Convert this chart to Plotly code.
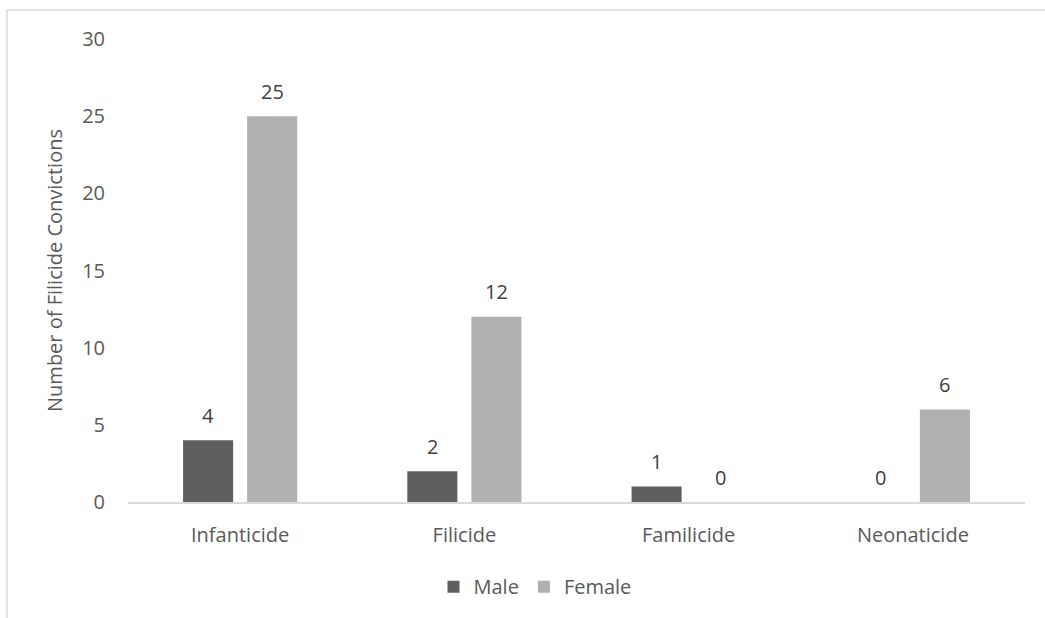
import plotly.graph_objects as go

categories = ["Infanticide", "Filicide", "Familicide", "Neonaticide"]
male = [4, 2, 1, 0]
female = [25, 12, 0, 6]
y_ticks = [0, 5, 10, 15, 20, 25, 30]

W, H = 1045, 618
L, R, T, B = 128, 20, 39, 114
pw, ph = W - L - R, H - T - B

def px_x(p):
    return (p - L) / pw

def px_y(p):
    return (H - B - p) / ph

TEXT = "#595959"
FONT = "Open Sans"
FS = 20

fig = go.Figure()
fig.add_trace(go.Bar(name="Male", x=categories, y=male,
                     marker=dict(color="#5f5f5f", line=dict(width=0))))
fig.add_trace(go.Bar(name="Female", x=categories, y=female,
                     marker=dict(color="#b0b0b0", line=dict(width=0))))

annotations = []
for i, c in enumerate(categories):
    for val, shift in ((male[i], -32), (female[i], 32)):
        annotations.append(dict(
            x=c, y=val, xref="x", yref="y", text=str(val), showarrow=False,
            xshift=shift, yshift=25, yanchor="middle",
            font=dict(family=FONT, size=FS, color="#404040"),
        ))

fig.update_layout(
    width=W, height=H,
    margin=dict(l=L, r=R, t=T, b=B, pad=0),
    paper_bgcolor="white", plot_bgcolor="white",
    barmode="group", bargap=0.4286, bargroupgap=0.219,
    font=dict(family=FONT, size=FS, color=TEXT),
    showlegend=True,
    legend=dict(orientation="h", x=px_x(535), xanchor="center", y=px_y(589), yanchor="middle",
                font=dict(family=FONT, size=FS, color=TEXT), traceorder="normal",
                itemwidth=30),
    annotations=annotations,
    shapes=[dict(type="rect", xref="paper", yref="paper",
                 x0=px_x(7), x1=px_x(1060), y0=px_y(640), y1=px_y(10),
                 line=dict(color="#d9d9d9", width=1.5), layer="below")],
)
fig.update_xaxes(showline=True, linecolor="#d9d9d9", linewidth=1.5, showgrid=False,
                 ticks="", ticklabelstandoff=14, tickfont=dict(family=FONT, size=FS, color=TEXT))
fig.update_yaxes(range=[0, 30], tickvals=y_ticks, showgrid=False, zeroline=False, showline=False,
                 ticks="", ticklabelstandoff=22, tickfont=dict(family=FONT, size=FS, color=TEXT),
                 title=dict(text="Number of Filicide Convictions", standoff=14,
                            font=dict(family=FONT, size=FS, color=TEXT)))

fig.write_html("out.html")
